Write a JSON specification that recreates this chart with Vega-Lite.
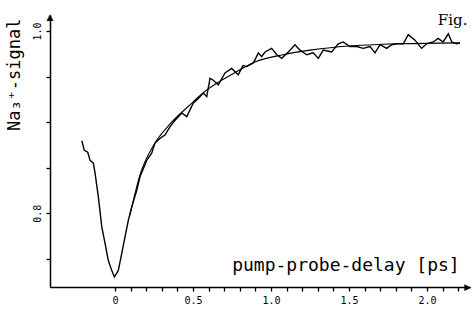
{
  "$schema": "https://vega.github.io/schema/vega-lite/v6.json",
  "width": 420,
  "height": 272,
  "autosize": {"type": "none"},
  "padding": {"left": 50, "top": 15, "right": 1, "bottom": 24},
  "background": "white",
  "config": {"view": {"stroke": null}, "font": "DejaVu Sans Mono"},
  "datasets": {
    "signal": [
      {"t": -0.213, "v": 0.8795}, {"t": -0.197, "v": 0.869}, {"t": -0.175, "v": 0.867}, {"t": -0.160, "v": 0.858},
      {"t": -0.139, "v": 0.855}, {"t": -0.128, "v": 0.844}, {"t": -0.107, "v": 0.818}, {"t": -0.085, "v": 0.785},
      {"t": -0.064, "v": 0.767}, {"t": -0.043, "v": 0.748}, {"t": -0.021, "v": 0.737}, {"t": -0.004, "v": 0.730},
      {"t": 0.021, "v": 0.737}, {"t": 0.043, "v": 0.756}, {"t": 0.064, "v": 0.774}, {"t": 0.085, "v": 0.792},
      {"t": 0.107, "v": 0.807}, {"t": 0.139, "v": 0.825}, {"t": 0.160, "v": 0.840}, {"t": 0.203, "v": 0.858},
      {"t": 0.235, "v": 0.866}, {"t": 0.256, "v": 0.877}, {"t": 0.288, "v": 0.882}, {"t": 0.321, "v": 0.886},
      {"t": 0.353, "v": 0.895}, {"t": 0.385, "v": 0.902}, {"t": 0.428, "v": 0.910}, {"t": 0.460, "v": 0.906},
      {"t": 0.502, "v": 0.921}, {"t": 0.534, "v": 0.926}, {"t": 0.566, "v": 0.932}, {"t": 0.588, "v": 0.928},
      {"t": 0.609, "v": 0.948}, {"t": 0.630, "v": 0.946}, {"t": 0.662, "v": 0.941}, {"t": 0.705, "v": 0.954},
      {"t": 0.748, "v": 0.959}, {"t": 0.790, "v": 0.952}, {"t": 0.820, "v": 0.962}, {"t": 0.844, "v": 0.961},
      {"t": 0.887, "v": 0.965}, {"t": 0.919, "v": 0.976}, {"t": 0.940, "v": 0.972}, {"t": 0.962, "v": 0.977},
      {"t": 1.004, "v": 0.981}, {"t": 1.037, "v": 0.974}, {"t": 1.069, "v": 0.970}, {"t": 1.111, "v": 0.977},
      {"t": 1.154, "v": 0.985}, {"t": 1.186, "v": 0.979}, {"t": 1.229, "v": 0.974}, {"t": 1.271, "v": 0.976},
      {"t": 1.303, "v": 0.970}, {"t": 1.335, "v": 0.979}, {"t": 1.389, "v": 0.977}, {"t": 1.431, "v": 0.986},
      {"t": 1.463, "v": 0.988}, {"t": 1.506, "v": 0.983}, {"t": 1.549, "v": 0.983}, {"t": 1.592, "v": 0.981},
      {"t": 1.635, "v": 0.983}, {"t": 1.667, "v": 0.976}, {"t": 1.699, "v": 0.985}, {"t": 1.742, "v": 0.981},
      {"t": 1.774, "v": 0.985}, {"t": 1.806, "v": 0.986}, {"t": 1.848, "v": 0.986}, {"t": 1.880, "v": 0.996},
      {"t": 1.923, "v": 0.990}, {"t": 1.966, "v": 0.981}, {"t": 1.998, "v": 0.986}, {"t": 2.040, "v": 0.988},
      {"t": 2.072, "v": 0.992}, {"t": 2.104, "v": 0.988}, {"t": 2.137, "v": 0.997}, {"t": 2.159, "v": 0.988},
      {"t": 2.190, "v": 0.986}, {"t": 2.212, "v": 0.987}
    ],
    "fit": [
      {"t": 0.096, "v": 0.798}, {"t": 0.160, "v": 0.842}, {"t": 0.256, "v": 0.877}, {"t": 0.353, "v": 0.898},
      {"t": 0.500, "v": 0.922}, {"t": 0.564, "v": 0.932}, {"t": 0.776, "v": 0.955}, {"t": 0.897, "v": 0.966},
      {"t": 1.077, "v": 0.974}, {"t": 1.250, "v": 0.979}, {"t": 1.397, "v": 0.982}, {"t": 1.827, "v": 0.986},
      {"t": 2.212, "v": 0.987}
    ],
    "marks": [
      {"t": -0.417, "v": 1.0150, "label": "▲", "kind": "up"},
      {"t": 2.262, "v": 0.719, "label": "▶", "kind": "right"},
      {"t": 2.21, "v": 0.7363, "label": "pump-probe-delay [ps]", "kind": "xtitle"},
      {"t": 2.07, "v": 1.0066, "label": "Fig.", "kind": "fig"}
    ]
  },
  "encoding": {
    "x": {
      "field": "t", "type": "quantitative",
      "scale": {"domain": [-0.417, 2.276], "nice": false, "zero": false},
      "axis": {
        "title": null,
        "values": [0, 0.1, 0.2, 0.3, 0.4, 0.5, 0.6, 0.7, 0.8, 0.9, 1.0, 1.1, 1.2, 1.3, 1.4, 1.5, 1.6, 1.7, 1.8, 1.9, 2.0, 2.1, 2.2],
        "labelExpr": "abs(datum.value*2 - round(datum.value*2)) < 0.001 ? (datum.value == 0 ? '0' : format(datum.value, '.1f')) : ''",
        "labelOverlap": false,
        "grid": false,
        "domainColor": "black", "domainWidth": 1.5,
        "tickColor": "black", "tickWidth": 1.3, "tickSize": 4,
        "labelColor": "black", "labelFontSize": 10, "labelFont": "DejaVu Sans Mono", "labelPadding": 4,
        "labelFlush": false
      }
    },
    "y": {
      "field": "v", "type": "quantitative",
      "scale": {"domain": [0.719, 1.0176], "nice": false, "zero": false},
      "axis": {
        "title": "Na₃⁺-signal",
        "titleFont": "DejaVu Sans Mono", "titleFontSize": 17, "titleFontWeight": "normal", "titleColor": "black",
        "titleAngle": -90, "titleAlign": "right", "titleBaseline": "middle", "titleX": -36, "titleY": 3,
        "values": [0.75, 0.8, 0.85, 0.9, 0.95, 1.0],
        "labelExpr": "(abs(datum.value - 0.8) < 0.001 || abs(datum.value - 1) < 0.001) ? format(datum.value, '.1f') : ''",
        "labelOverlap": false,
        "labelAngle": -90, "labelAlign": "center", "labelBaseline": "bottom",
        "grid": false,
        "domainColor": "black", "domainWidth": 1.5,
        "tickColor": "black", "tickWidth": 1.3, "tickSize": 4,
        "labelColor": "black", "labelFontSize": 10, "labelFont": "DejaVu Sans Mono", "labelPadding": 4,
        "labelFlush": false
      }
    }
  },
  "layer": [
    {
      "data": {"name": "signal"},
      "mark": {"type": "line", "color": "black", "strokeWidth": 1.4, "clip": false}
    },
    {
      "data": {"name": "fit"},
      "mark": {"type": "line", "color": "black", "strokeWidth": 1.1, "interpolate": "monotone", "clip": false}
    },
    {
      "data": {"name": "marks"},
      "transform": [{"filter": "datum.kind == 'up' || datum.kind == 'right'"}],
      "mark": {"type": "text", "align": "center", "baseline": "middle", "font": "DejaVu Sans", "fontSize": 9, "color": "black", "clip": false},
      "encoding": {"text": {"field": "label"}}
    },
    {
      "data": {"name": "marks"},
      "transform": [{"filter": "datum.kind == 'xtitle'"}],
      "mark": {"type": "text", "align": "right", "baseline": "alphabetic", "font": "DejaVu Sans Mono", "fontSize": 18, "color": "black", "clip": false},
      "encoding": {"text": {"field": "label"}}
    },
    {
      "data": {"name": "marks"},
      "transform": [{"filter": "datum.kind == 'fig'"}],
      "mark": {"type": "text", "align": "left", "baseline": "alphabetic", "font": "DejaVu Serif", "fontSize": 15, "color": "black", "clip": false},
      "encoding": {"text": {"field": "label"}}
    }
  ]
}
